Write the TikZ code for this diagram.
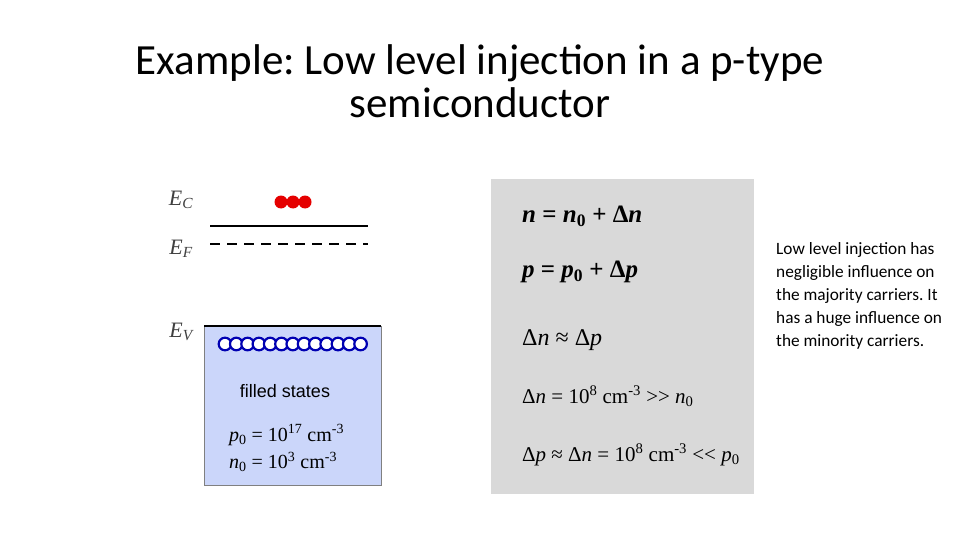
\documentclass[tikz,border=0pt]{standalone}
\usepackage{fontspec}
\setmainfont{Carlito}
\newfontfamily\tms{Liberation Serif}
\newfontfamily\ari{Liberation Sans}
\definecolor{bandblue}{RGB}{203,214,250}
\definecolor{boxgray}{RGB}{217,217,217}
\newcommand{\sbz}[1]{\textsubscript{#1}}
\newcommand{\spz}[1]{\textsuperscript{#1}}
\begin{document}
\frenchspacing
\begin{tikzpicture}[x=1pt,y=-1pt,
  eq/.style={anchor=west,inner sep=0pt,font=\tms\fontsize{21}{24}\selectfont},
  lbl/.style={inner sep=0pt,text=black!75,font=\tms\itshape\fontsize{22}{24}\selectfont},
  hole/.style={draw=blue!70!black,line width=2.2pt,fill=white}]
\useasboundingbox (0,0) rectangle (960,540);
\node[font=\fontsize{43}{43}\selectfont,align=center,inner sep=0pt] (t) at (480,81) {Example: Low level injection in a p-type\\semiconductor};
% band diagram
\node[lbl] (ec) at (181,200) {E\sbz{C}};
\node[lbl] (ef) at (181,249) {E\sbz{F}};
\node[lbl] (ev) at (181,332) {E\sbz{V}};
\draw[line width=1.8pt] (210,226) -- (368,226);
\draw[line width=1.8pt,dash pattern=on 10pt off 7pt] (210,244) -- (368,244);
\draw[fill=bandblue,draw=black!50] (204,326) rectangle (381,485);
\draw[line width=2pt] (204,326) -- (381,326);
\foreach \x in {281,293,305} \fill[red!90!black] (\x,202) circle (6.5);
\foreach \i in {0,...,12} \draw[hole] (225+11.3*\i,344) circle (6.3);
\node[font=\ari\fontsize{18}{20}\selectfont] (fs) at (285,391) {filled states};
\node[eq,font=\tms\fontsize{20}{22}\selectfont] (p0) at (229,435) {\textit{p}\sbz{0} = 10\spz{17} cm\spz{-3}};
\node[eq,font=\tms\fontsize{20}{22}\selectfont] (n0) at (229,462) {\textit{n}\sbz{0} = 10\spz{3} cm\spz{-3}};
% equations box
\fill[boxgray] (491,179) rectangle (754,494);
\node[eq,font=\tms\bfseries\fontsize{25}{27}\selectfont] (e1) at (522,216) {\textit{n} = \textit{n}\sbz{0} + Δ\textit{n}};
\node[eq,font=\tms\bfseries\fontsize{25}{27}\selectfont] (e2) at (522,272) {\textit{p} = \textit{p}\sbz{0} + Δ\textit{p}};
\node[eq,font=\tms\fontsize{24}{26}\selectfont] (e3) at (522,340) {Δ\textit{n} ≈ Δ\textit{p}};
\node[eq] (e4) at (522,396) {Δ\textit{n} = 10\spz{8} cm\spz{-3} >> \textit{n}\sbz{0}};
\node[eq] (e5) at (522,455) {Δ\textit{p} ≈ Δ\textit{n} = 10\spz{8} cm\spz{-3} << \textit{p}\sbz{0}};
% side text
\node[anchor=north west,align=left,inner sep=0pt,font=\fontsize{17.3}{23}\selectfont] (side) at (776,242) {Low level injection has\\negligible influence on\\the majority carriers. It\\has a huge influence on\\the minority carriers.};
\end{tikzpicture}
\end{document}
